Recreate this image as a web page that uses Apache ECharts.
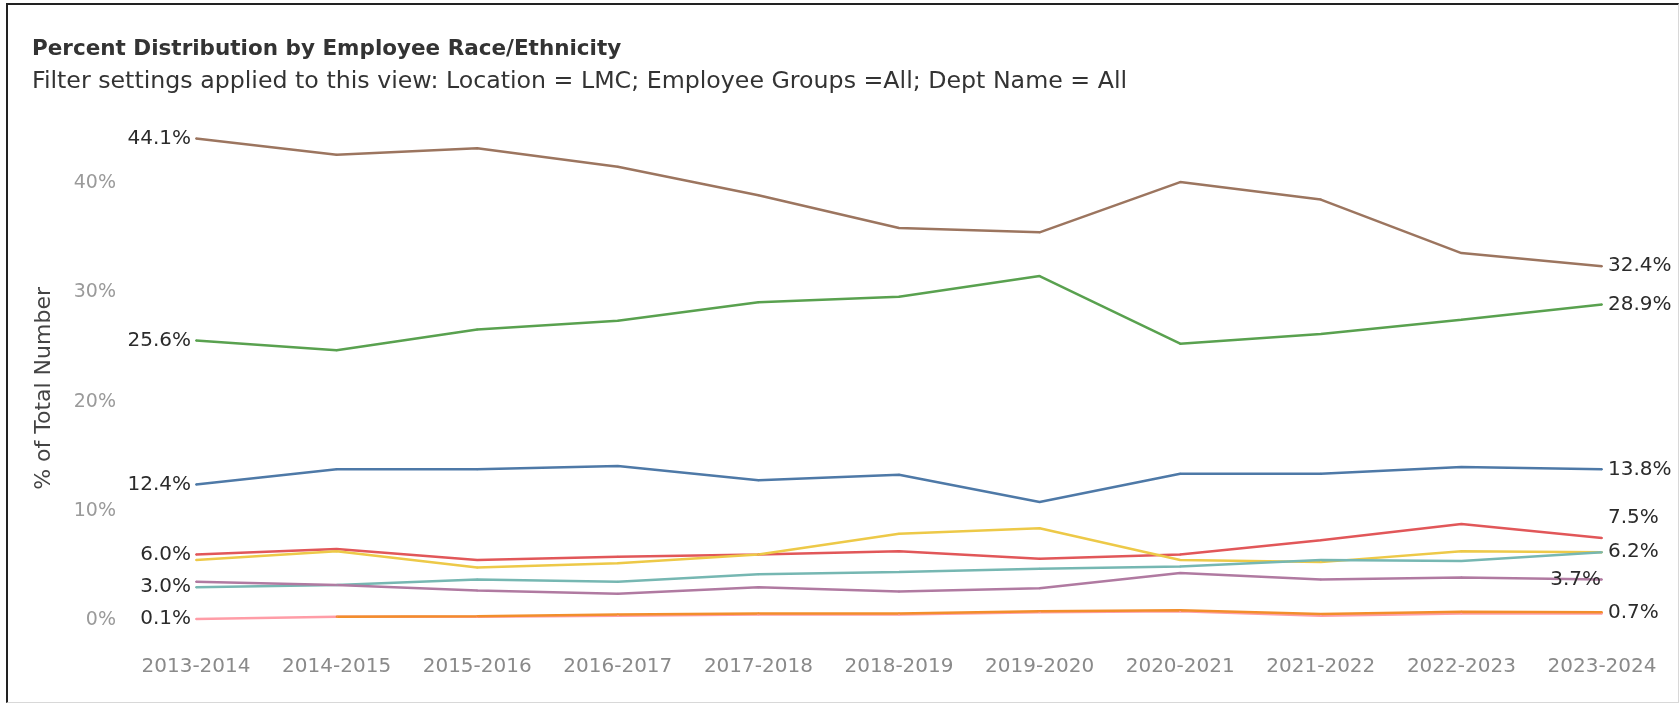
<!DOCTYPE html>
<html>
<head>
<meta charset="utf-8">
<script src="https://cdn.jsdelivr.net/npm/echarts@6/dist/echarts.min.js"></script>
<style>
  html, body { margin: 0; padding: 0; background: #fff; }
  #chart { position: absolute; left: 0; top: 0; width: 1679px; height: 703px; }
  #frame {
    position: absolute; left: 6px; top: 3px; width: 1670px; height: 697px;
    border-top: 2px solid #222; border-left: 2px solid #222;
    border-right: 1px solid #d8d8d8; border-bottom: 1px solid #d8d8d8;
    pointer-events: none;
  }
</style>
</head>
<body>
<div id="chart"></div>
<div id="frame"></div>
<script>
// school years on the x axis
const years = ['2013-2014', '2014-2015', '2015-2016', '2016-2017', '2017-2018', '2018-2019',
  '2019-2020', '2020-2021', '2021-2022', '2022-2023', '2023-2024'];

// percent of total
const white = [44.1, 42.6, 43.2, 41.5, 38.9, 35.9, 35.5, 40.1, 38.5, 33.6, 32.4];
const hispanic = [25.6, 24.7, 26.6, 27.4, 29.1, 29.6, 31.5, 25.3, 26.2, 27.5, 28.9];
const asian = [12.4, 13.8, 13.8, 14.1, 12.8, 13.3, 10.8, 13.4, 13.4, 14.0, 13.8];
const african = [6.0, 6.5, 5.5, 5.8, 6.0, 6.3, 5.6, 6.0, 7.3, 8.8, 7.5];
const multi = [5.5, 6.3, 4.8, 5.2, 6.0, 7.9, 8.4, 5.5, 5.3, 6.3, 6.2];
const filipino = [3.0, 3.2, 3.7, 3.5, 4.2, 4.4, 4.7, 4.9, 5.5, 5.4, 6.2];
const unknown = [3.5, 3.2, 2.7, 2.4, 3.0, 2.6, 2.9, 4.3, 3.7, 3.9, 3.7];
const nativeAm = [0.1, 0.3, 0.3, 0.4, 0.5, 0.5, 0.7, 0.8, 0.4, 0.6, 0.6];
const pacific = [null, 0.3, 0.35, 0.5, 0.6, 0.6, 0.8, 0.9, 0.55, 0.75, 0.7];

const yTicks = [0, 10, 20, 30, 40];

const labelFont = { fontFamily: 'DejaVu Sans', fontSize: 20, color: '#2b2b2b' };

// which end points get a value label, and where it goes
function line(name, values, color, first, last) {
  const data = values.map((v, i) => {
    if (i === 0 && first) {
      return { value: v, label: Object.assign({ show: true, position: 'left', distance: 4 }, labelFont) };
    }
    if (i === values.length - 1 && last) {
      return { value: v, label: Object.assign({ show: true, position: 'right', distance: 5 }, labelFont, last) };
    }
    return v;
  });
  return {
    name: name,
    type: 'line',
    data: data,
    symbol: 'circle',
    symbolSize: 2,
    showSymbol: true,
    showAllSymbol: true,
    clip: false,
    lineStyle: { color: color, width: 2.5 },
    itemStyle: { color: color },
    label: { show: false, formatter: p => p.value.toFixed(1) + '%' },
    labelLayout: { hideOverlap: false },
    emphasis: { disabled: true }
  };
}

const chart = echarts.init(document.getElementById('chart'));
chart.setOption({
  animation: false,
  textStyle: { fontFamily: 'DejaVu Sans' },
  title: {
    text: 'Percent Distribution by Employee Race/Ethnicity',
    subtext: 'Filter settings applied to this view: Location = LMC; Employee Groups =All; Dept Name = All',
    left: 27,
    top: 33,
    itemGap: 10,
    textStyle: { fontFamily: 'DejaVu Sans', fontSize: 21.5, fontWeight: 'bold', color: '#333' },
    subtextStyle: { fontFamily: 'DejaVu Sans', fontSize: 23.7, color: '#333' }
  },
  graphic: [{
    type: 'text',
    left: 33,
    top: 287,
    rotation: Math.PI / 2,
    style: { text: '% of Total Number', fontFamily: 'DejaVu Sans', fontSize: 22, fill: '#444' }
  }],
  grid: { left: 196, right: 77, top: 128.6, bottom: 83 },
  xAxis: {
    type: 'category',
    data: years,
    boundaryGap: false,
    axisLine: { show: false },
    axisTick: { show: false },
    splitLine: { show: false },
    axisLabel: { fontFamily: 'DejaVu Sans', fontSize: 20, color: '#8a8a8a', margin: 37, interval: 0 }
  },
  yAxis: {
    type: 'value',
    min: 0,
    max: 45,
    interval: 10,
    axisLine: { show: false },
    axisTick: { show: false },
    splitLine: { show: false },
    axisLabel: {
      fontFamily: 'DejaVu Sans', fontSize: 19, color: '#9a9a9a', margin: 80,
      showMaxLabel: false,
      formatter: v => yTicks.indexOf(v) >= 0 ? v + '%' : ''
    }
  },
  series: [
    line('White', white, '#9c755f', true, {}),
    line('Hispanic/Latinx', hispanic, '#59a14f', true, {}),
    line('Asian', asian, '#4e79a7', true, {}),
    line('African American', african, '#e15759', true, { position: [7, -29] }),
    line('Multi-Ethnicity', multi, '#edc948', false, null),
    line('Filipino', filipino, '#76b7b2', true, {}),
    line('Unknown', unknown, '#b07aa1', false, { position: 'left', distance: 0 }),
    line('American Indian', nativeAm, '#ff9da7', true, null),
    line('Pacific Islander', pacific, '#f28e2b', false, {})
  ]
});
</script>
</body>
</html>
